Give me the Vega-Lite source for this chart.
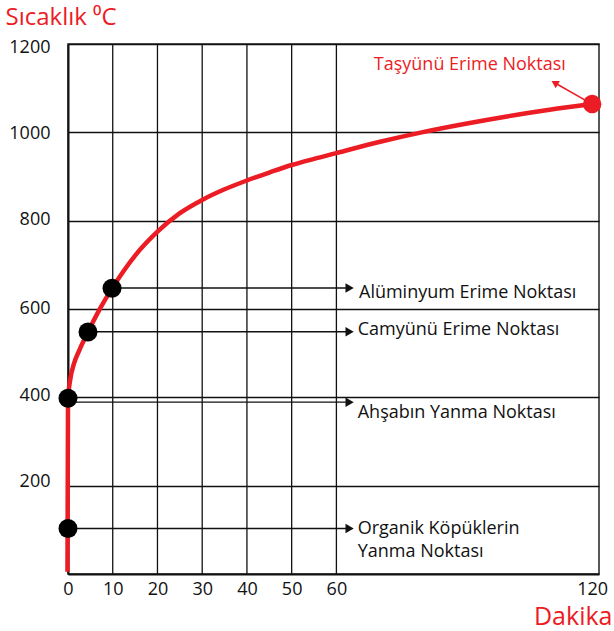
{
  "$schema": "https://vega.github.io/schema/vega-lite/v6.json",
  "width": 531,
  "height": 530,
  "autosize": "none",
  "padding": {"left": 68, "top": 44, "right": 15, "bottom": 57},
  "background": "white",
  "config": {
    "view": {"stroke": "#222", "strokeWidth": 1.5},
    "font": "Open Sans",
    "text": {"font": "Open Sans"}
  },
  "datasets": {
    "curve": [
      {"t": -0.12, "v": 5},
      {"t": 0, "v": 395},
      {"t": 0.5, "v": 440},
      {"t": 1.3, "v": 475},
      {"t": 2.5, "v": 506},
      {"t": 4.47, "v": 548},
      {"t": 7, "v": 598},
      {"t": 10, "v": 649},
      {"t": 15, "v": 721},
      {"t": 20, "v": 775},
      {"t": 25, "v": 817},
      {"t": 30, "v": 847},
      {"t": 35, "v": 871},
      {"t": 40, "v": 891},
      {"t": 45, "v": 909},
      {"t": 50, "v": 926},
      {"t": 55, "v": 940},
      {"t": 60, "v": 953},
      {"t": 70, "v": 978},
      {"t": 80, "v": 1000},
      {"t": 90, "v": 1019},
      {"t": 100, "v": 1036},
      {"t": 110, "v": 1051},
      {"t": 120, "v": 1064}
    ],
    "grid": [{"t": 10}, {"t": 20}, {"t": 30}, {"t": 40}, {"t": 50}, {"t": 60}],
    "arrows": [
      {"t": 0, "v": 103, "t2": 62.4},
      {"t": 0, "v": 389, "t2": 62.4},
      {"t": 4.47, "v": 548.5, "t2": 62.4},
      {"t": 9.84, "v": 647.5, "t2": 62.4}
    ],
    "heads": [
      {"t": 63.1, "v": 103},
      {"t": 63.1, "v": 389},
      {"t": 63.1, "v": 548.5},
      {"t": 63.1, "v": 647.5}
    ],
    "points": [
      {"t": 0, "v": 103},
      {"t": 0, "v": 398},
      {"t": 4.47, "v": 548},
      {"t": 9.84, "v": 647}
    ],
    "labels": [
      {"t": 65.3, "v": 637, "label": "Alüminyum Erime Noktası"},
      {"t": 65.0, "v": 553, "label": "Camyünü Erime Noktası"},
      {"t": 65.0, "v": 364, "label": "Ahşabın Yanma Noktası"},
      {"t": 65.0, "v": 103, "label": "Organik Köpüklerin"},
      {"t": 65.0, "v": 49, "label": "Yanma Noktası"}
    ],
    "redpoint": [{"t": 120, "v": 1064}],
    "redarrow": [{"t": 120, "v": 1064, "t2": 111.6, "v2": 1110}],
    "redhead": [{"t": 111.2, "v": 1112}],
    "redlabel": [{"t": 91.3, "v": 1152, "label": "Taşyünü Erime Noktası"}]
  },
  "encoding": {
    "x": {
      "field": "t",
      "type": "quantitative",
      "scale": {"domain": [0, 60, 121.6], "range": [0, 268.4, 531], "nice": false, "zero": false},
      "axis": {
        "values": [0, 10, 20, 30, 40, 50, 60, 120],
        "format": "d",
        "grid": false,
        "ticks": false,
        "domainColor": "#111",
        "domainWidth": 2,
        "labelFontSize": 18,
        "labelColor": "#111",
        "labelPadding": 6,
        "labelFlush": false,
        "title": "Dakika",
        "titleColor": "#ec1c24",
        "titleFontSize": 25,
        "titleFontWeight": "normal",
        "titleAlign": "right",
        "titleBaseline": "alphabetic",
        "titleAnchor": null,
        "titleX": 544,
        "titleY": 50
      }
    }
  },
  "layer": [
    {
      "data": {"name": "grid"},
      "mark": {"type": "rule", "color": "#111", "strokeWidth": 1.3}
    },
    {
      "data": {"name": "arrows"},
      "mark": {"type": "rule", "color": "#111", "strokeWidth": 1.3},
      "encoding": {
        "x2": {"field": "t2"},
        "y": {
          "field": "v",
          "type": "quantitative",
          "scale": {"domain": [0, 1200], "nice": false, "zero": true},
          "axis": {
            "values": [200, 400, 600, 800, 1000, 1200],
            "format": "d",
            "grid": true,
            "gridColor": "#111",
            "gridWidth": 1.3,
            "gridOpacity": 1,
            "ticks": false,
            "domainColor": "#111",
            "domainWidth": 2,
            "labelFontSize": 18,
            "labelColor": "#111",
            "labelPadding": 18,
            "labelBaseline": "middle",
            "labelOffset": {"expr": "datum.value == 1200 ? 3 : datum.value == 1000 ? 1 : datum.value == 400 ? -2 : datum.value == 200 ? -4 : -1"},
            "title": "Sıcaklık ⁰C",
            "titleColor": "#ec1c24",
            "titleFontSize": 24,
            "titleFontWeight": "normal",
            "titleAngle": 0,
            "titleAlign": "left",
            "titleBaseline": "alphabetic",
            "titleAnchor": null,
            "titleX": -63,
            "titleY": -20
          }
        }
      }
    },
    {
      "data": {"name": "heads"},
      "mark": {"type": "point", "shape": "triangle-right", "filled": true, "color": "#111", "size": 90, "opacity": 1},
      "encoding": {
        "y": {"field": "v", "type": "quantitative", "title": "Sıcaklık ⁰C"}
      }
    },
    {
      "data": {"name": "curve"},
      "mark": {"type": "line", "color": "#ec1c24", "strokeWidth": 4.5, "interpolate": "monotone"},
      "encoding": {
        "y": {"field": "v", "type": "quantitative", "title": "Sıcaklık ⁰C"}
      }
    },
    {
      "data": {"name": "points"},
      "mark": {"type": "circle", "color": "#000", "size": 360, "opacity": 1},
      "encoding": {
        "y": {"field": "v", "type": "quantitative", "title": "Sıcaklık ⁰C"}
      }
    },
    {
      "data": {"name": "redarrow"},
      "mark": {"type": "rule", "color": "#ec1c24", "strokeWidth": 1.5},
      "encoding": {
        "x2": {"field": "t2"},
        "y": {"field": "v", "type": "quantitative", "title": "Sıcaklık ⁰C"},
        "y2": {"field": "v2"}
      }
    },
    {
      "data": {"name": "redhead"},
      "mark": {"type": "point", "shape": "triangle-up", "angle": 300, "filled": true, "color": "#ec1c24", "size": 70, "opacity": 1},
      "encoding": {
        "y": {"field": "v", "type": "quantitative", "title": "Sıcaklık ⁰C"}
      }
    },
    {
      "data": {"name": "redpoint"},
      "mark": {"type": "circle", "color": "#ec1c24", "size": 340, "opacity": 1},
      "encoding": {
        "y": {"field": "v", "type": "quantitative", "title": "Sıcaklık ⁰C"}
      }
    },
    {
      "data": {"name": "labels"},
      "mark": {"type": "text", "align": "left", "baseline": "middle", "fontSize": 18, "color": "#111"},
      "encoding": {
        "y": {"field": "v", "type": "quantitative", "title": "Sıcaklık ⁰C"},
        "text": {"field": "label"}
      }
    },
    {
      "data": {"name": "redlabel"},
      "mark": {"type": "text", "align": "center", "baseline": "middle", "fontSize": 18, "color": "#ec1c24"},
      "encoding": {
        "y": {"field": "v", "type": "quantitative", "title": "Sıcaklık ⁰C"},
        "text": {"field": "label"}
      }
    }
  ]
}
